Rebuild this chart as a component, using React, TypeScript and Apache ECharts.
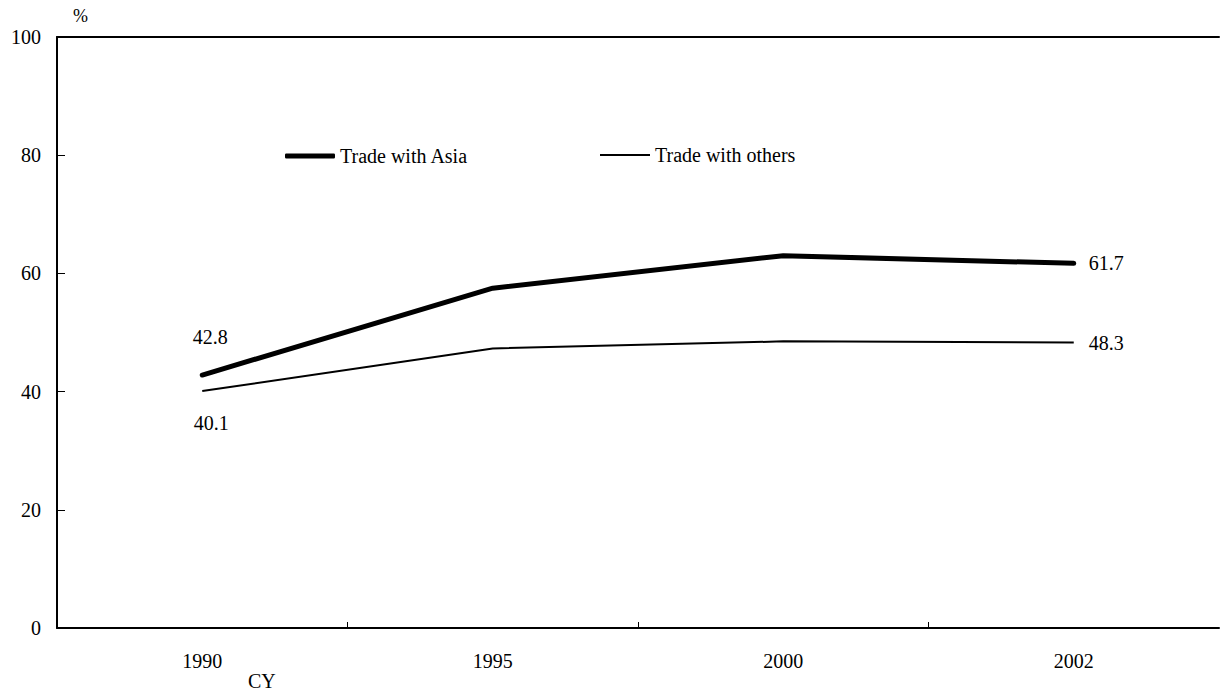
import React, { useEffect, useRef } from "react";
import * as echarts from "echarts";

// Calendar years on the horizontal axis
const years = ["1990", "1995", "2000", "2002"];
// Share of trade, percent
const tradeWithAsia = [42.8, 57.5, 63.0, 61.7];
const tradeWithOthers = [40.1, 47.3, 48.5, 48.3];
const yTicks = [0, 20, 40, 60, 80, 100];

const FONT = "'Liberation Serif', 'Times New Roman', serif";
const FS = 20;

export default function App() {
  const ref = useRef<HTMLDivElement>(null);

  useEffect(() => {
    if (!ref.current) return;
    const chart = echarts.init(ref.current, undefined, { renderer: "svg" });

    const lastIdx = years.length - 1;
    const labelFor = (arr: number[], first: any, last: any) =>
      arr.map((v, i) => {
        if (i === 0) return { value: v, label: { show: true, ...first } };
        if (i === lastIdx) return { value: v, label: { show: true, ...last } };
        return { value: v };
      });

    const baseLabel = { color: "#000", fontFamily: FONT, fontSize: FS };
    const legendText = { fontFamily: FONT, fontSize: FS, color: "#000", padding: [0, 0, 0, 0] };

    chart.setOption({
      animation: false,
      backgroundColor: "#fff",
      textStyle: { fontFamily: FONT, color: "#000" },
      grid: { left: 57, right: 1, top: 37, bottom: 68, containLabel: false },
      legend: [
        {
          data: [{ name: "Trade with Asia", icon: "roundRect" }],
          left: 280,
          top: 141,
          itemWidth: 50,
          itemHeight: 5,
          itemGap: 5,
          itemStyle: { color: "#000", borderWidth: 0 },
          textStyle: legendText,
        },
        {
          data: [{ name: "Trade with others", icon: "rect" }],
          left: 595,
          top: 140,
          itemWidth: 50,
          itemHeight: 2,
          itemGap: 5,
          itemStyle: { color: "#000", borderWidth: 0 },
          textStyle: legendText,
        },
      ],
      xAxis: [
        {
          type: "category",
          data: years,
          boundaryGap: true,
          position: "bottom",
          axisLine: { lineStyle: { color: "#000", width: 2 } },
          axisTick: { show: false },
          axisLabel: { color: "#000", fontFamily: FONT, fontSize: FS, margin: 23 },
          splitLine: { show: false },
        },
        {
          type: "category",
          data: years,
          position: "top",
          axisLine: { lineStyle: { color: "#000", width: 2 } },
          axisTick: { show: false },
          axisLabel: { show: false },
          splitLine: { show: false },
        },
        {
          // category boundaries, marked by short inward ticks
          type: "value",
          min: 0,
          max: years.length,
          position: "bottom",
          axisLine: { show: false },
          axisTick: {
            show: true,
            inside: true,
            length: 6,
            customValues: [1, 2, 3],
            lineStyle: { color: "#000", width: 1 },
          },
          axisLabel: { show: false },
          splitLine: { show: false },
        },
      ],
      yAxis: {
        type: "value",
        min: yTicks[0],
        max: yTicks[yTicks.length - 1],
        interval: 20,
        name: "%",
        nameLocation: "end",
        nameGap: 12,
        nameTextStyle: { color: "#000", fontFamily: FONT, fontSize: 18, align: "left", padding: [0, 0, 0, 16] },
        axisLine: { show: true, lineStyle: { color: "#000", width: 2 } },
        axisTick: { show: true, inside: true, length: 8, lineStyle: { color: "#000", width: 1 } },
        axisLabel: { color: "#000", fontFamily: FONT, fontSize: FS, margin: 16 },
        splitLine: { show: false },
      },
      graphic: [
        {
          type: "text",
          left: 248,
          top: 671,
          style: { text: "CY", fill: "#000", font: `${FS}px ${FONT}` },
        },
      ],
      series: [
        {
          name: "Trade with Asia",
          type: "line",
          xAxisIndex: 0,
          data: labelFor(
            tradeWithAsia,
            { ...baseLabel, position: "top", distance: 28, offset: [8, 0] },
            { ...baseLabel, position: "right", distance: 15 }
          ),
          symbol: "circle",
          symbolSize: 0,
          showSymbol: true,
          itemStyle: { color: "#000" },
          lineStyle: { color: "#000", width: 5, cap: "round", join: "round" },
          emphasis: { disabled: true },
        },
        {
          name: "Trade with others",
          type: "line",
          xAxisIndex: 0,
          data: labelFor(
            tradeWithOthers,
            { ...baseLabel, position: "bottom", distance: 22, offset: [9, 0] },
            { ...baseLabel, position: "right", distance: 15 }
          ),
          symbol: "circle",
          symbolSize: 0,
          showSymbol: true,
          itemStyle: { color: "#000" },
          lineStyle: { color: "#000", width: 2 },
          emphasis: { disabled: true },
        },
      ],
    });

    return () => chart.dispose();
  }, []);

  return <div ref={ref} style={{ width: 1220, height: 696, position: "absolute", left: 0, top: 0 }} />;
}
